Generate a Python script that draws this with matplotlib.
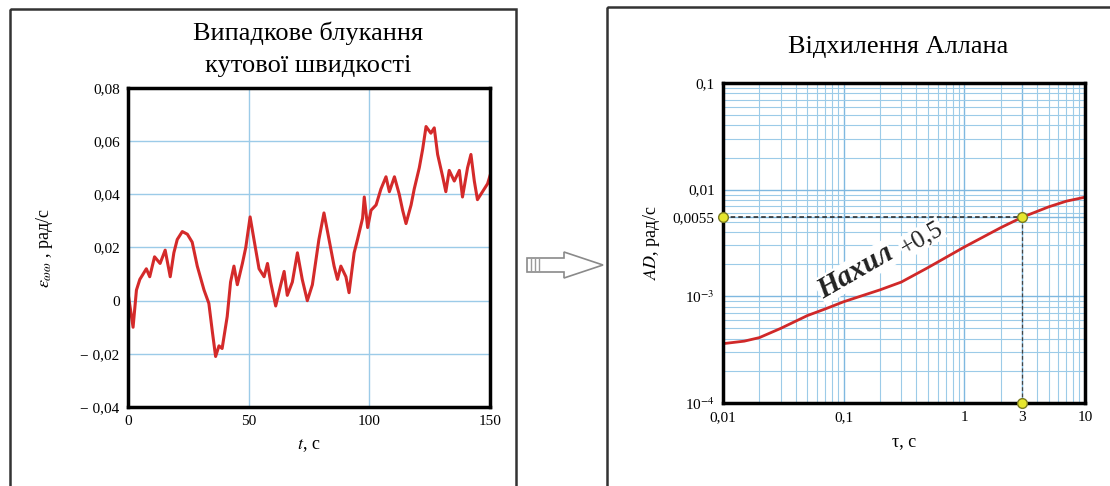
import matplotlib
matplotlib.use('Agg')
import matplotlib.pyplot as plt
from matplotlib.patches import Rectangle, Polygon
from matplotlib.ticker import FixedLocator, LogLocator, NullFormatter

plt.rcParams['font.family'] = ['Liberation Serif', 'DejaVu Serif']
plt.rcParams['mathtext.fontset'] = 'stix'

# random walk of angular rate
t_s = [0, 2.1, 3.5, 4.9, 7.6, 9, 11, 13.3, 15.4, 17.5, 19, 20.4, 22.5, 24.6, 26.6,
       28.7, 31.5, 33.5, 35, 36.3, 37.7, 39, 41.1, 42.5, 43.9, 45.3, 47.4, 48.8,
       50.6, 52.2, 54.3, 56.4, 57.8, 59.1, 61.2, 63.3, 64.7, 66, 68.1, 70.2, 72.2,
       74.3, 76.4, 79.1, 81.2, 83.3, 85.4, 86.8, 88.2, 90.3, 91.6, 93.7, 95.1,
       97.2, 97.9, 99.3, 100.7, 102.8, 104.8, 106.9, 108.3, 110.4, 112.4, 113.8,
       115.2, 117.3, 118.6, 120.7, 122.1, 123.5, 125.5, 126.9, 128.3, 130.4,
       131.7, 133.1, 135.2, 137.3, 138.6, 140.7, 142.1, 143.5, 144.8, 146.9, 149, 150]
omega = [0.003, -0.010, 0.004, 0.008, 0.012, 0.009, 0.0165, 0.014, 0.019, 0.009,
         0.018, 0.023, 0.026, 0.025, 0.022, 0.013, 0.004, -0.001, -0.012, -0.021,
         -0.017, -0.018, -0.006, 0.007, 0.013, 0.006, 0.014, 0.020, 0.0315, 0.023,
         0.012, 0.009, 0.014, 0.007, -0.002, 0.006, 0.011, 0.002, 0.007, 0.018,
         0.008, 0.000, 0.006, 0.023, 0.033, 0.023, 0.013, 0.008, 0.013, 0.009,
         0.003, 0.018, 0.023, 0.031, 0.039, 0.0275, 0.034, 0.036, 0.042, 0.0466,
         0.041, 0.0466, 0.040, 0.034, 0.029, 0.036, 0.042, 0.050, 0.057, 0.0655,
         0.063, 0.065, 0.055, 0.0466, 0.041, 0.049, 0.045, 0.049, 0.039, 0.050,
         0.055, 0.045, 0.038, 0.041, 0.044, 0.047]

# Allan deviation curve
tau = [0.01, 0.015, 0.02, 0.03, 0.05, 0.07, 0.1, 0.2, 0.3, 0.5, 1, 2, 3, 5, 7, 10]
adev = [3.6e-4, 3.8e-4, 4.1e-4, 5.0e-4, 6.6e-4, 7.6e-4, 8.9e-4, 1.15e-3, 1.36e-3,
        1.86e-3, 2.9e-3, 4.4e-3, 5.5e-3, 6.9e-3, 7.8e-3, 8.5e-3]
tau_mark = 3
ad_mark = 0.0055

left_xticks = [0, 50, 100, 150]
left_yticks = [-0.04, -0.02, 0, 0.02, 0.04, 0.06, 0.08]
left_ylabels = ['\u2212 0,04', '\u2212 0,02', '0', '0,02', '0,04', '0,06', '0,08']
right_xticks = [0.01, 0.1, 1, 3, 10]
right_xlabels = ['0,01', '0,1', '1', '3', '10']
right_yticks = [1e-4, 1e-3, 0.0055, 0.01, 0.1]
right_ylabels = ['10$^{-4}$', '10$^{-3}$', '0,0055', '0,01', '0,1']

W, H = 1110, 486
fig = plt.figure(figsize=(W / 100, H / 100), dpi=100)

# overlay in pixel coordinates for frames and arrow
bg = fig.add_axes([0, 0, 1, 1], zorder=-5)
bg.set_xlim(0, W)
bg.set_ylim(H, 0)
bg.axis('off')
bg.add_patch(Rectangle((10, 9), 506, 490, fill=False, ec='#333333', lw=1.8, clip_on=False))
bg.add_patch(Rectangle((607, 7), 520, 490, fill=False, ec='#333333', lw=1.8, clip_on=False))
arrow = [(527, 258), (564, 258), (564, 252), (603, 265), (564, 278), (564, 272), (527, 272)]
bg.add_patch(Polygon(arrow, closed=True, fc='white', ec='#8a8a8a', lw=1.2))
for xx in [531, 535, 539]:
    bg.plot([xx, xx], [259, 271], color='#9a9a9a', lw=1)
bg.text(308, 33, 'Випадкове блукання', ha='center', va='center', fontsize=19)
bg.text(308, 66, 'кутової швидкості', ha='center', va='center', fontsize=19)
bg.text(898, 47, 'Відхилення Аллана', ha='center', va='center', fontsize=19)

grid_col = '#9ccbe8'

# left: random walk
ax1 = fig.add_axes([128 / W, 1 - 407 / H, 362 / W, 319 / H])
ax1.plot(t_s, omega, color='#d42a2a', lw=2.2)
ax1.set_xlim(0, 150)
ax1.set_ylim(-0.04, 0.08)
ax1.set_xticks(left_xticks)
ax1.set_xticklabels([str(v) for v in left_xticks])
ax1.set_yticks(left_yticks)
ax1.set_yticklabels(left_ylabels)
ax1.grid(True, color=grid_col, lw=1)
ax1.tick_params(length=0, labelsize=11, pad=6)
for s in ax1.spines.values():
    s.set_linewidth(2.5)
ax1.set_xlabel('$t$, с', fontsize=13, labelpad=6)
ax1.set_ylabel(r'$\varepsilon_{\omega\omega}$ , рад/с', fontsize=13, labelpad=18)

# right: Allan deviation
ax2 = fig.add_axes([723 / W, 1 - 403 / H, 362 / W, 320 / H])
ax2.set_xscale('log')
ax2.set_yscale('log')
ax2.set_xlim(0.01, 10)
ax2.set_ylim(1e-4, 0.1)
ax2.xaxis.set_minor_locator(LogLocator(base=10, subs=range(2, 10)))
ax2.yaxis.set_minor_locator(LogLocator(base=10, subs=range(2, 10)))
ax2.xaxis.set_minor_formatter(NullFormatter())
ax2.yaxis.set_minor_formatter(NullFormatter())
ax2.xaxis.set_major_locator(FixedLocator(right_xticks))
ax2.yaxis.set_major_locator(FixedLocator(right_yticks))
ax2.set_xticklabels(right_xlabels)
ax2.set_yticklabels(right_ylabels)
ax2.grid(True, which='major', color='#7fb8e0', lw=1)
ax2.grid(True, which='minor', color=grid_col, lw=0.8)
ax2.tick_params(which='both', length=0, labelsize=11, pad=6)
for s in ax2.spines.values():
    s.set_linewidth(2.5)
    s.set_zorder(5)
ax2.plot([0.01, tau_mark], [ad_mark, ad_mark], color='#222222', ls=(0, (3, 2)), lw=1.1, zorder=3)
ax2.plot([tau_mark, tau_mark], [1e-4, ad_mark], color='#444444', ls=(0, (3, 2)), lw=0.9, zorder=3)
ax2.plot(tau, adev, color='#d02828', lw=2, zorder=4)
ax2.plot([0.01, tau_mark, tau_mark], [ad_mark, ad_mark, 1e-4], 'o', ms=7,
         mfc='#e6e62e', mec='#7a7a20', mew=1, clip_on=False, zorder=6)
ax2.text(0.365, 0.41, 'Нахил', transform=ax2.transAxes, rotation=30, ha='center', va='center',
         fontsize=21, fontweight='bold', fontstyle='italic', color='#222222',
         bbox=dict(fc='white', ec='none', pad=0.5))
ax2.text(0.548, 0.515, '+0,5', transform=ax2.transAxes, rotation=30, ha='center', va='center',
         fontsize=18, color='#222222', bbox=dict(fc='white', ec='none', pad=0.5))
ax2.set_xlabel('τ, с', fontsize=13, labelpad=6)
ax2.set_ylabel('$AD$, рад/с', fontsize=13, labelpad=8)

fig.savefig('out.png', dpi=100)
